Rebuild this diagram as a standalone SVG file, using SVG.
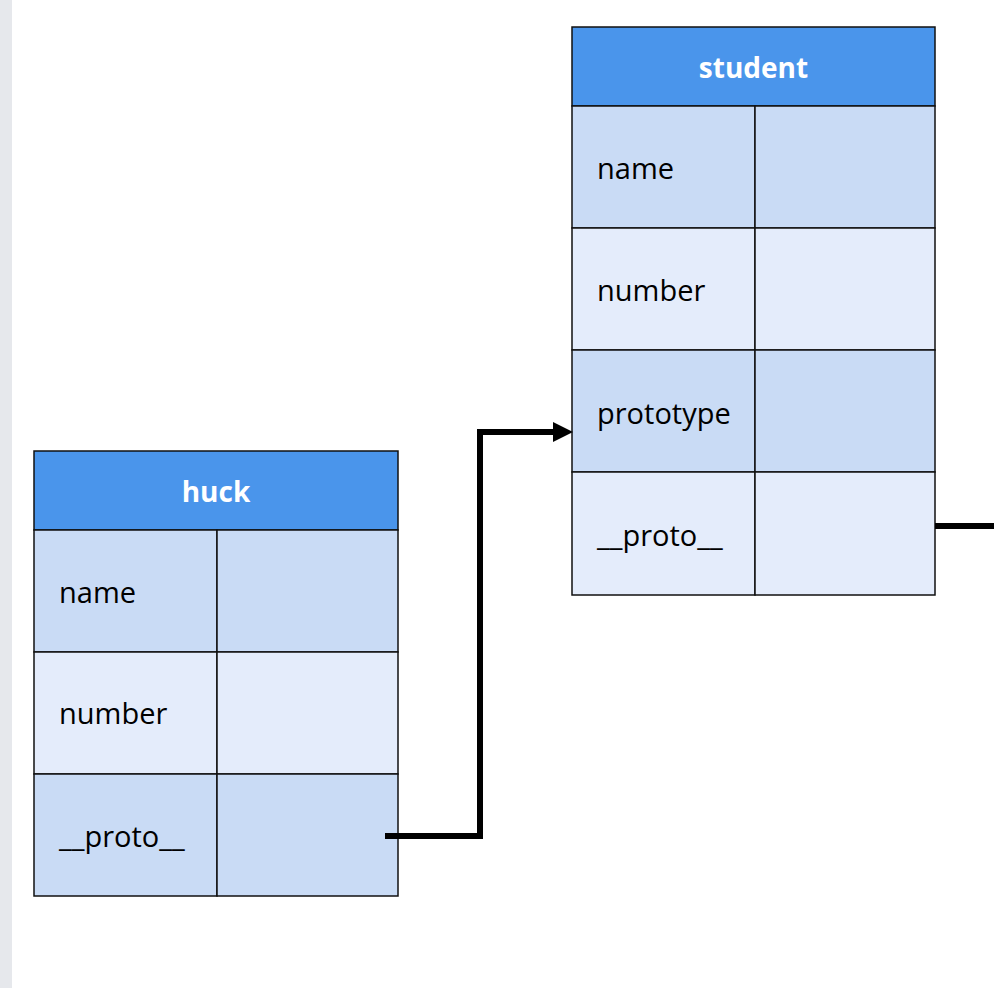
<svg xmlns="http://www.w3.org/2000/svg" width="994" height="988" viewBox="0 0 994 988">
<defs>
<style>
.hdr{fill:#4a95eb;stroke:#111;stroke-width:1.5}
.dk{fill:#c9dbf5;stroke:#111;stroke-width:1.5}
.lt{fill:#e4ecfb;stroke:#111;stroke-width:1.5}
.ht{font-family:"Open Sans","Noto Sans",sans-serif;font-size:28px;font-weight:bold;fill:#fff;text-anchor:middle}
.lb{font-family:"Open Sans","Noto Sans",sans-serif;font-size:29px;fill:#000}
.cn{fill:none;stroke:#000;stroke-width:6}
</style>
</defs>
<rect x="0" y="0" width="994" height="988" fill="#fff"/>
<rect x="0" y="0" width="12" height="988" fill="#e6e8ec"/>
<g id="student">
<rect class="hdr" x="572" y="27" width="363" height="79"/>
<text class="ht" x="753.5" y="78">student</text>
<rect class="dk" x="572" y="106" width="183" height="122"/>
<rect class="dk" x="755" y="106" width="180" height="122"/>
<rect class="lt" x="572" y="228" width="183" height="122"/>
<rect class="lt" x="755" y="228" width="180" height="122"/>
<rect class="dk" x="572" y="350" width="183" height="122"/>
<rect class="dk" x="755" y="350" width="180" height="122"/>
<rect class="lt" x="572" y="472" width="183" height="123"/>
<rect class="lt" x="755" y="472" width="180" height="123"/>
<text class="lb" x="597" y="179">name</text>
<text class="lb" x="597" y="301">number</text>
<text class="lb" x="597" y="424">prototype</text>
<text class="lb" x="597" y="546">__proto__</text>
</g>
<g id="huck">
<rect class="hdr" x="34" y="451" width="364" height="79"/>
<text class="ht" x="216" y="502">huck</text>
<rect class="dk" x="34" y="530" width="183" height="122"/>
<rect class="dk" x="217" y="530" width="181" height="122"/>
<rect class="lt" x="34" y="652" width="183" height="122"/>
<rect class="lt" x="217" y="652" width="181" height="122"/>
<rect class="dk" x="34" y="774" width="183" height="122"/>
<rect class="dk" x="217" y="774" width="181" height="122"/>
<text class="lb" x="59" y="603">name</text>
<text class="lb" x="59" y="724">number</text>
<text class="lb" x="59" y="847">__proto__</text>
</g>
<g id="connectors">
<path class="cn" d="M385,836 H480 V432 H553"/>
<path d="M553,422 L573,432 L553,442 Z" fill="#000"/>
<path class="cn" d="M935,526 H994"/>
</g>
</svg>
